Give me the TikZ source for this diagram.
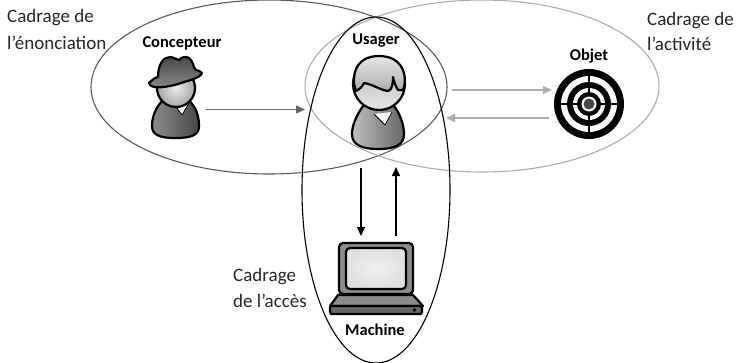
\documentclass[tikz,border=0pt]{standalone}
\usepackage{fontspec}
\setmainfont{Carlito}
\usetikzlibrary{arrows.meta}
\definecolor{elA}{gray}{0.35}
\definecolor{elB}{gray}{0.68}
\tikzset{
  px/.style={x=1pt,y=-1pt},
  cadre/.style={draw,line width=1.1pt},
  lab/.style={font=\fontsize{19}{22}\selectfont,text=black!85,inner sep=0pt,anchor=west},
  who/.style={font=\bfseries\fontsize{16.5}{19}\selectfont,inner sep=0pt},
  flow/.style={line width=1.4pt,-{Triangle[length=9pt,width=8pt]}},
  fig/.style={draw=black,line width=2.2pt,line join=round},
}
\begin{document}
\begin{tikzpicture}[px]
\useasboundingbox (0,0) rectangle (739,362);
% frames
\coordinate (cL) at (269,87);
\coordinate (cR) at (482,86);
\coordinate (cB) at (376,190);
\draw[cadre,draw=elA] (cL) ellipse [x radius=178,y radius=87];
\draw[cadre,draw=elB] (cR) ellipse [x radius=177,y radius=86];
\draw[cadre,draw=black] (cB) ellipse [x radius=74,y radius=173];
% Concepteur figure
\draw[fig,left color=black!45,right color=black!72]
  (163,100) .. controls (155,108) and (152,118) .. (152,126)
  .. controls (152,135) and (160,138) .. (175,138)
  .. controls (192,138) and (199,135) .. (199,126)
  .. controls (199,116) and (196,106) .. (188,100) -- cycle;
\fill[white] (174,104) -- (189,103) -- (182,115) -- cycle;
\draw[fig,line width=0.8pt] (174,104) -- (182,115) -- (189,103);
\draw[fig,inner color=black!8,outer color=black!35] (176,88) circle [radius=19];
\draw[fig,top color=black!72,bottom color=black!45]
  (149,83) .. controls (154,78) and (157,77) .. (158,77)
  .. controls (158,65) and (163,57) .. (170,57)
  .. controls (174,57) and (176,60) .. (179,60)
  .. controls (181,57) and (186,56) .. (189,58)
  .. controls (194,62) and (193,68) .. (196,70)
  .. controls (200,71) and (201,72) .. (202,73)
  .. controls (200,78) and (190,80) .. (178,84)
  .. controls (168,87) and (150,90) .. (149,83) -- cycle;
% Usager figure
\draw[fig,left color=black!25,right color=black!60]
  (363,106) .. controls (356,116) and (352,126) .. (352,134)
  .. controls (352,145) and (362,149) .. (378,149)
  .. controls (395,149) and (404,145) .. (404,134)
  .. controls (404,124) and (399,112) .. (394,106) -- cycle;
\fill[white] (374,114) -- (392,112) -- (385,125) -- cycle;
\draw[fig,line width=0.8pt] (374,114) -- (385,125) -- (392,112);
\draw[fig,top color=black!30,bottom color=black!10] (379,84) circle [radius=26];
\draw[fig,top color=black!10,bottom color=black!32]
  (356,91) .. controls (351,78) and (354,56) .. (379,56)
  .. controls (404,56) and (408,78) .. (403,90)
  .. controls (402,90) and (400,90) .. (398,90)
  .. controls (396,87) and (394,82) .. (393,77)
  .. controls (393,84) and (392,90) .. (388,91)
  .. controls (380,90) and (372,84) .. (364,83)
  .. controls (362,87) and (360,89) .. (356,91) -- cycle;
% Target
\coordinate (tg) at (589,104);
\fill[black] (tg) circle [radius=35];
\fill[white] (tg) circle [radius=28];
\fill[black] (tg) circle [radius=22];
\fill[white] (tg) circle [radius=16];
\draw[black,line width=1.1pt] (555,104) -- (623,104) (589,70) -- (589,138);
\fill[black] (tg) circle [radius=12];
\fill[white] (tg) circle [radius=7.5];
\fill[black!72] (tg) circle [radius=5.5];
% Laptop
\draw[fig,fill=black!45,rounded corners=4pt] (339,243) rectangle (413,294);
\draw[fig,inner color=black!6,outer color=black!12,rounded corners=4pt] (346,248) rectangle (406,289);
\draw[fig,fill=black!45] (338,295) -- (413,295) -- (423,306) -- (330,306) -- cycle;
\draw[fig,fill=black!60,rounded corners=1.5pt] (330,306) rectangle (422,314);
\fill[black] (414.5,310) circle [radius=1.8];
% Labels
\node[who] (nC) at (182,43) {Concepteur};
\node[who] (nU) at (376,41) {Usager};
\node[who] (nO) at (589,56) {Objet};
\node[who] (nM) at (375,330) {Machine};
\node[lab] (t1) at (7,18) {Cadrage de};
\node[lab] (t2) at (7,43) {l’énonciation};
\node[lab] (t3) at (647,21) {Cadrage de};
\node[lab] (t4) at (647,44) {l’activité};
\node[lab] (t5) at (233,277) {Cadrage};
\node[lab] (t6) at (233,301) {de l’accès};
% Connector anchors
\coordinate (a1) at (206,109.5); \coordinate (a2) at (305,109.5);
\coordinate (b1) at (452,90); \coordinate (b2) at (552,90);
\coordinate (c1) at (549,118); \coordinate (c2) at (446,118);
\coordinate (d1) at (361,168); \coordinate (d2) at (361,236);
\coordinate (e1) at (396,236); \coordinate (e2) at (396,167);
\draw[flow,draw=black!60,fill=black!60] (a1) -- (a2);
\draw[flow,draw=elB,fill=elB] (b1) -- (b2);
\draw[flow,draw=elB,fill=elB] (c1) -- (c2);
\draw[flow,draw=black,fill=black] (d1) -- (d2);
\draw[flow,draw=black,fill=black] (e1) -- (e2);
\end{tikzpicture}
\end{document}
